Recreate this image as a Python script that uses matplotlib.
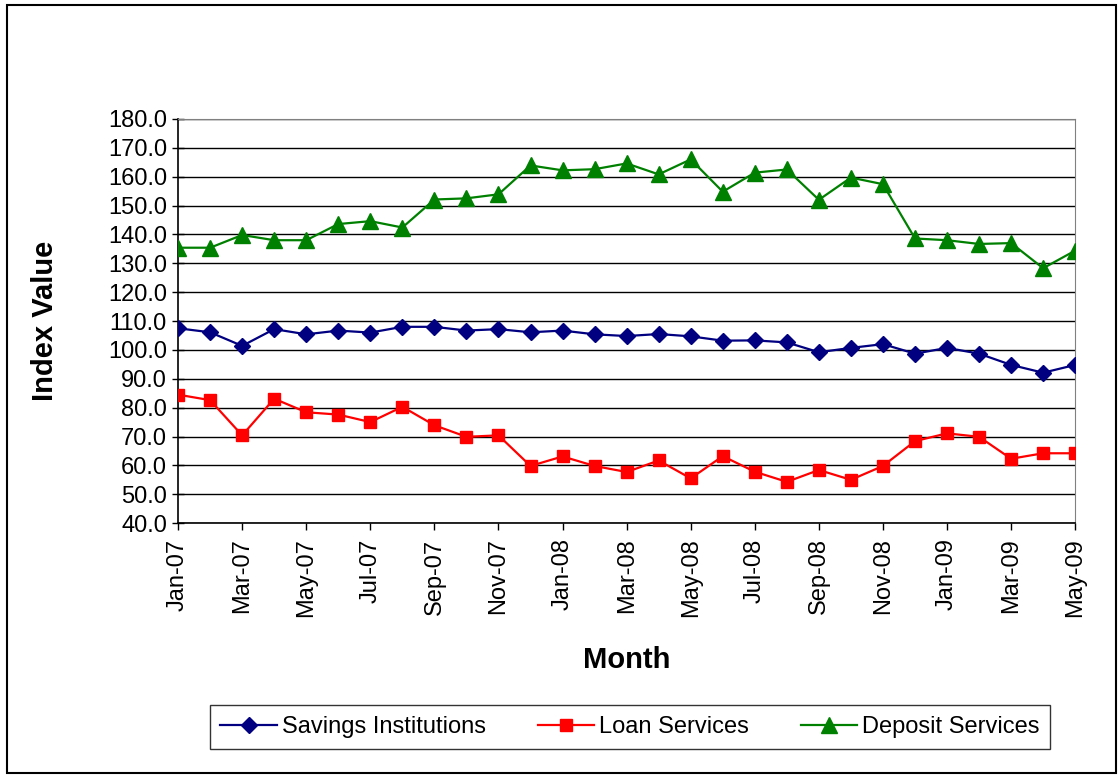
import matplotlib
matplotlib.use("Agg")
from matplotlib import pyplot as plt
from matplotlib.patches import Rectangle
import numpy as np

plt.rcParams['font.family'] = ['Liberation Sans', 'DejaVu Sans']

months = ['Jan-07', 'Feb-07', 'Mar-07', 'Apr-07', 'May-07', 'Jun-07', 'Jul-07', 'Aug-07',
          'Sep-07', 'Oct-07', 'Nov-07', 'Dec-07', 'Jan-08', 'Feb-08', 'Mar-08', 'Apr-08',
          'May-08', 'Jun-08', 'Jul-08', 'Aug-08', 'Sep-08', 'Oct-08', 'Nov-08', 'Dec-08',
          'Jan-09', 'Feb-09', 'Mar-09', 'Apr-09', 'May-09']

savings = [107.5, 106.1, 101.4, 107.2, 105.4, 106.7, 106.0, 108.0, 108.0, 106.7,
           107.2, 106.1, 106.7, 105.4, 104.8, 105.5, 104.7, 103.2, 103.3, 102.6,
           99.2, 100.7, 102.0, 98.7, 100.7, 98.7, 94.8, 92.1, 94.8]

loan = [84.5, 82.6, 70.4, 83.1, 78.4, 77.6, 75.0, 80.3, 73.9, 69.9,
        70.4, 59.8, 63.1, 59.8, 57.7, 61.7, 55.5, 63.2, 57.8, 54.3,
        58.4, 55.0, 59.8, 68.4, 71.1, 69.9, 62.3, 64.2, 64.2]

deposit = [135.4, 135.4, 139.8, 138.0, 138.0, 143.6, 144.6, 142.4, 152.1, 152.5,
           153.9, 163.9, 162.2, 162.6, 164.6, 160.8, 166.0, 154.8, 161.4, 162.5,
           152.0, 159.7, 157.4, 138.6, 138.0, 136.7, 137.0, 128.3, 134.4]

x = np.arange(len(months))

fig = plt.figure(figsize=(11.2, 7.75), dpi=100)
ax = fig.add_axes([0.159, 0.325, 0.801, 0.5215])

ax.plot(x, savings, color='#000080', marker='D', markersize=8, lw=1.6,
        label='Savings Institutions', zorder=3)
ax.plot(x, loan, color='#FF0000', marker='s', markersize=9, lw=1.6,
        label='Loan Services', zorder=3)
ax.plot(x, deposit, color='#008000', marker='^', markersize=11, lw=1.6,
        label='Deposit Services', zorder=3)

ax.set_xlim(0, len(months) - 1)
ax.set_ylim(40, 180)
ax.set_yticks(np.arange(40, 181, 10))
ax.set_yticklabels(['%.1f' % v for v in np.arange(40, 181, 10)], fontsize=17)
ax.set_xticks(x[::2])
ax.set_xticklabels(months[::2], rotation=90, fontsize=17)
ax.tick_params(axis='y', direction='inout', length=8, width=1, pad=4)
ax.tick_params(axis='x', direction='out', length=5, width=1, pad=6)

ax.grid(axis='y', color='black', lw=1)
ax.set_axisbelow(True)
for s in ['top', 'right']:
    ax.spines[s].set_color('#808080')
ax.spines['left'].set_linewidth(1.2)
ax.spines['bottom'].set_linewidth(1.2)

ax.set_ylabel('Index Value', fontsize=21, fontweight='bold')
ax.set_xlabel('Month', fontsize=21, fontweight='bold')
ax.yaxis.set_label_coords(-0.133, 0.5)
ax.xaxis.set_label_coords(0.5, -0.304)

leg = ax.legend(loc='center', ncol=3, fontsize=17, frameon=True, fancybox=False,
                edgecolor='black', handlelength=2.4, columnspacing=2.2,
                borderpad=0.45, handletextpad=0.2)
leg.get_frame().set_linewidth(1)
leg.set_bbox_to_anchor((0.5625, 0.062), transform=fig.transFigure)

fig.patches.append(Rectangle((0.006, 0.002), 0.99, 0.991, transform=fig.transFigure,
                             fill=False, edgecolor='black', lw=1.5))

fig.savefig('out.png', dpi=100)
